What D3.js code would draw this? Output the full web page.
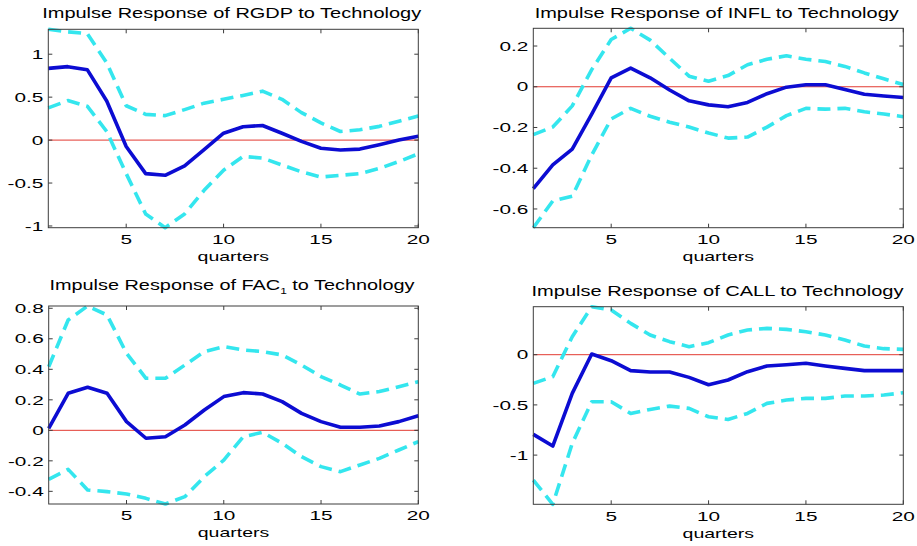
<!DOCTYPE html>
<html>
<head>
<meta charset="utf-8">
<script src="https://cdn.jsdelivr.net/npm/d3@7"></script>
<style>
  body { margin: 0; background: #ffffff; }
  text { font-family: "Liberation Sans", Arial, Helvetica, sans-serif; fill: #000; }
</style>
</head>
<body>
<div id="chart"></div>
<script>
// DATA

const quarters = [1, 2, 3, 4, 5, 6, 7, 8, 9, 10, 11, 12, 13, 14, 15, 16, 17, 18, 19, 20];
const xTicks = [5, 10, 15, 20];

const rgdpMean  = [0.835, 0.855, 0.82, 0.455, -0.075, -0.39, -0.41, -0.30, -0.11, 0.08, 0.155, 0.17, 0.08, -0.015, -0.095, -0.115, -0.105, -0.055, 0.0, 0.045];
const rgdpUpper = [1.29, 1.26, 1.24, 0.90, 0.40, 0.30, 0.285, 0.355, 0.43, 0.475, 0.52, 0.57, 0.475, 0.32, 0.20, 0.10, 0.12, 0.16, 0.22, 0.28];
const rgdpLower = [0.375, 0.46, 0.395, 0.10, -0.39, -0.86, -1.02, -0.86, -0.585, -0.35, -0.19, -0.21, -0.29, -0.37, -0.43, -0.41, -0.39, -0.33, -0.25, -0.16];
const rgdpTicks = [-1, -0.5, 0, 0.5, 1];

const inflMean  = [-0.50, -0.384, -0.306, -0.134, 0.044, 0.092, 0.044, -0.016, -0.069, -0.089, -0.098, -0.077, -0.034, -0.002, 0.01, 0.01, -0.013, -0.037, -0.045, -0.053];
const inflUpper = [-0.235, -0.198, -0.094, 0.084, 0.232, 0.287, 0.229, 0.14, 0.052, 0.027, 0.055, 0.108, 0.135, 0.152, 0.135, 0.124, 0.10, 0.068, 0.039, 0.011];
const inflLower = [-0.692, -0.561, -0.537, -0.335, -0.158, -0.106, -0.145, -0.174, -0.198, -0.227, -0.252, -0.247, -0.198, -0.142, -0.106, -0.11, -0.106, -0.123, -0.134, -0.147];
const inflTicks = [-0.6, -0.4, -0.2, 0, 0.2];

const facMean  = [0.013, 0.243, 0.282, 0.243, 0.057, -0.052, -0.042, 0.035, 0.133, 0.221, 0.247, 0.238, 0.188, 0.111, 0.057, 0.02, 0.02, 0.028, 0.057, 0.096];
const facUpper = [0.417, 0.723, 0.815, 0.756, 0.505, 0.341, 0.341, 0.428, 0.516, 0.549, 0.527, 0.516, 0.494, 0.428, 0.352, 0.297, 0.238, 0.254, 0.286, 0.319];
const facLower = [-0.321, -0.256, -0.391, -0.402, -0.417, -0.446, -0.483, -0.435, -0.304, -0.195, -0.042, -0.013, -0.085, -0.173, -0.238, -0.271, -0.227, -0.184, -0.129, -0.074];
const facTicks = [-0.4, -0.2, 0, 0.2, 0.4, 0.6, 0.8];

const callMean  = [-0.794, -0.91, -0.385, 0.007, -0.06, -0.159, -0.173, -0.173, -0.226, -0.299, -0.252, -0.169, -0.113, -0.10, -0.086, -0.113, -0.136, -0.159, -0.159, -0.159];
const callUpper = [-0.286, -0.219, 0.179, 0.478, 0.445, 0.312, 0.196, 0.13, 0.08, 0.12, 0.196, 0.246, 0.262, 0.252, 0.229, 0.196, 0.146, 0.086, 0.06, 0.053];
const callLower = [-1.249, -1.49, -0.884, -0.468, -0.468, -0.585, -0.545, -0.512, -0.535, -0.618, -0.645, -0.585, -0.485, -0.452, -0.435, -0.435, -0.412, -0.412, -0.402, -0.379];
const callTicks = [-1, -0.5, 0];

// PANELS: data plus where each sits on the page

const panels = [
  { title: ["Impulse Response of RGDP to Technology"], mean: rgdpMean, upper: rgdpUpper, lower: rgdpLower, ticks: rgdpTicks,
    box: { left: 48.3, right: 418.3, top: 29.3, bottom: 227.7 }, titleX: 231.7, titleY: 18.3, titleW: 380 },
  { title: ["Impulse Response of INFL to Technology"], mean: inflMean, upper: inflUpper, lower: inflLower, ticks: inflTicks,
    box: { left: 533.3, right: 903.3, top: 28.3, bottom: 227.7 }, titleX: 716.7, titleY: 18.3, titleW: 365 },
  { title: ["Impulse Response of FAC", "1", " to Technology"], mean: facMean, upper: facUpper, lower: facLower, ticks: facTicks,
    box: { left: 48.7, right: 418.3, top: 306, bottom: 504 }, titleX: 232, titleY: 290, titleW: 366 },
  { title: ["Impulse Response of CALL to Technology"], mean: callMean, upper: callUpper, lower: callLower, ticks: callTicks,
    box: { left: 533.3, right: 903.3, top: 306.7, bottom: 504.3 }, titleX: 717.5, titleY: 296, titleW: 373 }
];

const width = 917, height = 546;
const axisColor = "#3c3c3c";
const tickLen = 4;
const tickStretch = 1.6;
const labelStretch = 1.5;

const svg = d3.select("#chart")
  .append("svg")
  .attr("width", width)
  .attr("height", height);

// stretch a text horizontally around its own anchor point
function stretch(node, sx) {
  const x = +node.getAttribute("x"), y = +node.getAttribute("y");
  node.setAttribute("transform", `translate(${x},${y}) scale(${sx},1) translate(${-x},${-y})`);
}

panels.forEach(p => {
  const b = p.box;
  const all = p.mean.concat(p.upper, p.lower);

  const x = d3.scaleLinear().domain([1, 20]).range([b.left, b.right]);
  const y = d3.scaleLinear().domain(d3.extent(all)).range([b.bottom, b.top]);

  const g = svg.append("g");

  // zero line
  g.append("line")
    .attr("x1", x(1)).attr("x2", x(20))
    .attr("y1", y(0)).attr("y2", y(0))
    .attr("stroke", "#e23a32")
    .attr("stroke-width", 1);

  const line = d3.line()
    .x((d, i) => x(quarters[i]))
    .y(d => y(d));

  [p.upper, p.lower].forEach(band => {
    g.append("path")
      .attr("d", line(band))
      .attr("fill", "none")
      .attr("stroke", "#34e6ee")
      .attr("stroke-width", 3.6)
      .attr("stroke-dasharray", "13,7")
      .attr("stroke-linejoin", "round");
  });

  g.append("path")
    .attr("d", line(p.mean))
    .attr("fill", "none")
    .attr("stroke", "#0c0cd2")
    .attr("stroke-width", 3.6)
    .attr("stroke-linejoin", "round");

  // box
  g.append("rect")
    .attr("x", b.left).attr("y", b.top)
    .attr("width", b.right - b.left).attr("height", b.bottom - b.top)
    .attr("fill", "none")
    .attr("stroke", axisColor)
    .attr("stroke-width", 1);

  // x ticks (inside, bottom and top) and labels
  xTicks.forEach(t => {
    g.append("line")
      .attr("x1", x(t)).attr("x2", x(t))
      .attr("y1", b.bottom).attr("y2", b.bottom - tickLen)
      .attr("stroke", axisColor);
    g.append("line")
      .attr("x1", x(t)).attr("x2", x(t))
      .attr("y1", b.top).attr("y2", b.top + tickLen)
      .attr("stroke", axisColor);
    const lab = g.append("text")
      .attr("x", x(t))
      .attr("y", b.bottom + 16.5)
      .attr("text-anchor", "middle")
      .style("font-size", "13px")
      .text(t);
    stretch(lab.node(), tickStretch);
  });

  // y ticks and labels
  p.ticks.forEach(t => {
    g.append("line")
      .attr("x1", b.left).attr("x2", b.left + tickLen)
      .attr("y1", y(t)).attr("y2", y(t))
      .attr("stroke", axisColor);
    g.append("line")
      .attr("x1", b.right).attr("x2", b.right - tickLen)
      .attr("y1", y(t)).attr("y2", y(t))
      .attr("stroke", axisColor);
    const lab = g.append("text")
      .attr("x", b.left - 5)
      .attr("y", y(t) + 4.7)
      .attr("text-anchor", "end")
      .style("font-size", "13px")
      .text(String(t));
    stretch(lab.node(), tickStretch);
  });

  // x label
  const xl = g.append("text")
    .attr("x", (b.left + b.right) / 2)
    .attr("y", b.bottom + 33.5)
    .attr("text-anchor", "middle")
    .style("font-size", "13px")
    .text("quarters");
  stretch(xl.node(), labelStretch);

  // title (with subscript where needed)
  const tt = g.append("text")
    .attr("x", p.titleX)
    .attr("y", p.titleY)
    .attr("text-anchor", "middle")
    .style("font-size", "15px");
  tt.append("tspan").text(p.title[0]);
  if (p.title.length > 1) {
    tt.append("tspan").attr("dy", 4).style("font-size", "9px").text(p.title[1]);
    tt.append("tspan").attr("dy", -4).text(p.title[2]);
  }
  const natural = tt.node().getBBox().width;
  stretch(tt.node(), p.titleW / natural);
});
</script>
</body>
</html>
